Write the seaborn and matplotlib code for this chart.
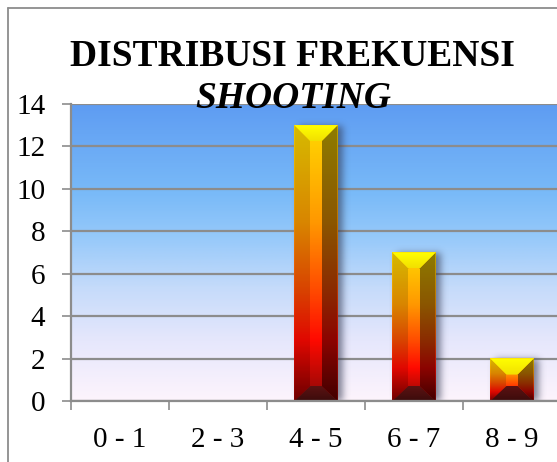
import numpy as np
import pandas as pd
import matplotlib
matplotlib.use("Agg")
import matplotlib.pyplot as plt
import seaborn as sns
from matplotlib.colors import LinearSegmentedColormap
from matplotlib.patches import Polygon
from matplotlib.lines import Line2D

# ---- data ----
categories = ["0 - 1", "2 - 3", "4 - 5", "6 - 7", "8 - 9"]
frequencies = [0, 0, 13, 7, 2]
y_ticks = [0, 2, 4, 6, 8, 10, 12, 14]
title_line1 = "DISTRIBUSI FREKUENSI"
title_line2 = "SHOOTING"

W, H = 557, 462
SERIF = ["Liberation Serif", "DejaVu Serif"]

sns.set_style("white")
plt.rcParams["font.family"] = SERIF
plt.rcParams["text.color"] = "black"

fig = plt.figure(figsize=(W / 100, H / 100), dpi=100)
fig.patch.set_facecolor("white")

# plot area in pixels
L, R, T, B = 71, 561, 104, 401
ax = fig.add_axes([L / W, (H - B) / H, (R - L) / W, (B - T) / H])

df = pd.DataFrame({"cat": categories, "freq": frequencies})
sns.barplot(data=df, x="cat", y="freq", ax=ax, color="#ff0000", width=0.44,
            order=categories)

XMIN, XMAX, YMIN, YMAX = -0.5, len(categories) - 0.5, 0, 14
ax.set_xlim(XMIN, XMAX)
ax.set_ylim(YMIN, YMAX)
PXX = (XMAX - XMIN) / (R - L)      # data units per pixel (x)
PXY = (YMAX - YMIN) / (B - T)      # data units per pixel (y)

# ---- background gradient ----
bg_cmap = LinearSegmentedColormap.from_list("bg", [
    (0.00, "#5e9cf2"), (0.30, "#79baf8"), (0.45, "#96c9fa"),
    (0.62, "#c5dbfa"), (0.80, "#e6e7fc"), (1.00, "#fdf4fc")])
grad = np.linspace(0, 1, 300)[:, None]
ax.imshow(grad, extent=(XMIN, XMAX, YMIN, YMAX), cmap=bg_cmap, vmin=0, vmax=1,
          aspect="auto", origin="upper", zorder=0, interpolation="bilinear")

# ---- bars with bevel ----
cm_center = LinearSegmentedColormap.from_list("c", [
    (0.0, "#ffd800"), (0.35, "#ff9800"), (0.6, "#ff4a00"), (0.78, "#ff0a00"), (1.0, "#8c0808")])
cm_left = LinearSegmentedColormap.from_list("l", [
    (0.0, "#d6ba00"), (0.35, "#d98600"), (0.6, "#d84200"), (0.78, "#e00800"), (1.0, "#6e0000")])
cm_right = LinearSegmentedColormap.from_list("r", [
    (0.0, "#8e7c00"), (0.35, "#8a5600"), (0.6, "#8a2a00"), (0.78, "#8c0400"), (1.0, "#420000")])
cm_top = LinearSegmentedColormap.from_list("t", [(0.0, "#ffff00"), (1.0, "#f2e000")])
cm_bot = LinearSegmentedColormap.from_list("b", [(0.0, "#5a1212"), (1.0, "#3c0c0c")])


def blur(a, sigma):
    r = int(3 * sigma)
    k = np.exp(-0.5 * (np.arange(-r, r + 1) / sigma) ** 2)
    k /= k.sum()
    a = np.apply_along_axis(lambda v: np.convolve(v, k, mode="same"), 0, a)
    a = np.apply_along_axis(lambda v: np.convolve(v, k, mode="same"), 1, a)
    return a


def grad_img(cmap, ext, poly, z):
    im = ax.imshow(grad, extent=ext, cmap=cmap, vmin=0, vmax=1, aspect="auto",
                   origin="upper", zorder=z, interpolation="bilinear")
    if poly is not None:
        patch = Polygon(poly, closed=True, transform=ax.transData)
        im.set_clip_path(patch)


bars = list(ax.patches)
for p, val in zip(bars, frequencies):
    p.set_visible(False)
    if val <= 0:
        continue
    x0 = p.get_x(); x1 = x0 + p.get_width()
    y0 = 0.0; y1 = p.get_height()

    # soft shadow
    m = 14
    wpx = int(round((x1 - x0) / PXX)) + 2 * m
    hpx = int(round((y1 - y0) / PXY)) + 2 * m
    a = np.zeros((hpx, wpx))
    a[m:hpx - m, m:wpx - m] = 1.0
    a = blur(a, 3.5) * 0.6
    rgba = np.zeros((hpx, wpx, 4))
    rgba[..., 0] = 0.2; rgba[..., 1] = 0.22; rgba[..., 2] = 0.32
    rgba[..., 3] = a
    off = 5 * PXX
    ax.imshow(rgba, extent=(x0 - m * PXX + off, x1 + m * PXX + off,
                            y0 - m * PXY, y1 + m * PXY - 1 * PXY),
              aspect="auto", origin="upper", zorder=2, interpolation="bilinear")

    dx = 16 * PXX
    dyt = 16 * PXY
    dyb = 15 * PXY
    h = y1 - y0
    if dyt + dyb > h * 0.8:
        s = h * 0.8 / (dyt + dyb)
        dyt *= s; dyb *= s
    A = (x0, y1); Bq = (x1, y1); C = (x1, y0); D = (x0, y0)
    a_ = (x0 + dx, y1 - dyt); b_ = (x1 - dx, y1 - dyt)
    c_ = (x1 - dx, y0 + dyb); d_ = (x0 + dx, y0 + dyb)
    ext = (x0, x1, y0, y1)
    grad_img(cm_center, ext, None, 2.5)          # base fill (no gaps)
    grad_img(cm_left, ext, [D, A, a_, d_], 3)
    grad_img(cm_right, ext, [Bq, C, c_, b_], 3)
    grad_img(cm_center, ext, [a_, b_, c_, d_], 3)
    grad_img(cm_top, (x0, x1, y1 - dyt, y1), [A, Bq, b_, a_], 3)
    grad_img(cm_bot, (x0, x1, y0, y0 + dyb), [C, D, d_, c_], 3)

ax.set_xlim(XMIN, XMAX)
ax.set_ylim(YMIN, YMAX)

# ---- axes styling ----
GRID = "#8c8c8c"
ax.set_yticks(y_ticks)
ax.set_yticklabels([str(v) for v in y_ticks])
ax.set_xticks(range(len(categories)))
ax.set_xticklabels(categories)
ax.set_xticks(np.arange(XMIN, XMAX + 0.01, 1.0), minor=True)
ax.set_xlabel("")
ax.set_ylabel("")
ax.yaxis.grid(True, color=GRID, linewidth=1.6)
ax.xaxis.grid(False)
ax.set_axisbelow(True)
for s in ["top", "right"]:
    ax.spines[s].set_visible(False)
for s in ["left", "bottom"]:
    ax.spines[s].set_visible(True)
    ax.spines[s].set_color(GRID)
    ax.spines[s].set_linewidth(1.6)
    ax.spines[s].set_zorder(4)
ax.tick_params(axis="y", which="major", direction="out", length=6.5, width=1.2,
               color=GRID, pad=12, labelsize=21, left=True, labelcolor="black")
ax.tick_params(axis="x", which="major", length=0, pad=19, labelsize=21, bottom=True,
               labelcolor="black")
ax.tick_params(axis="x", which="minor", direction="out", length=6.5, width=1.2,
               color=GRID, bottom=True)
for t in ax.get_xticklabels() + ax.get_yticklabels():
    t.set_fontfamily(SERIF)

# ---- titles ----
fig.text(292 / W, 1 - 66 / H, title_line1, ha="center", va="baseline", color="black",
         fontsize=27, fontweight="bold", family=SERIF, zorder=10)
fig.text(293 / W, 1 - 108 / H, title_line2, ha="center", va="baseline", color="black",
         fontsize=27, fontweight="bold", fontstyle="italic", family=SERIF, zorder=10)

# ---- chart border (partially outside the image) ----
fig.add_artist(Line2D([7.5 / W, 7.5 / W], [0, 1 - 7.5 / H], transform=fig.transFigure,
                      color="#8c8c8c", linewidth=1.3))
fig.add_artist(Line2D([7.5 / W, 1], [1 - 7.5 / H, 1 - 7.5 / H], transform=fig.transFigure,
                      color="#8c8c8c", linewidth=1.3))

fig.savefig("out.png", dpi=100)
